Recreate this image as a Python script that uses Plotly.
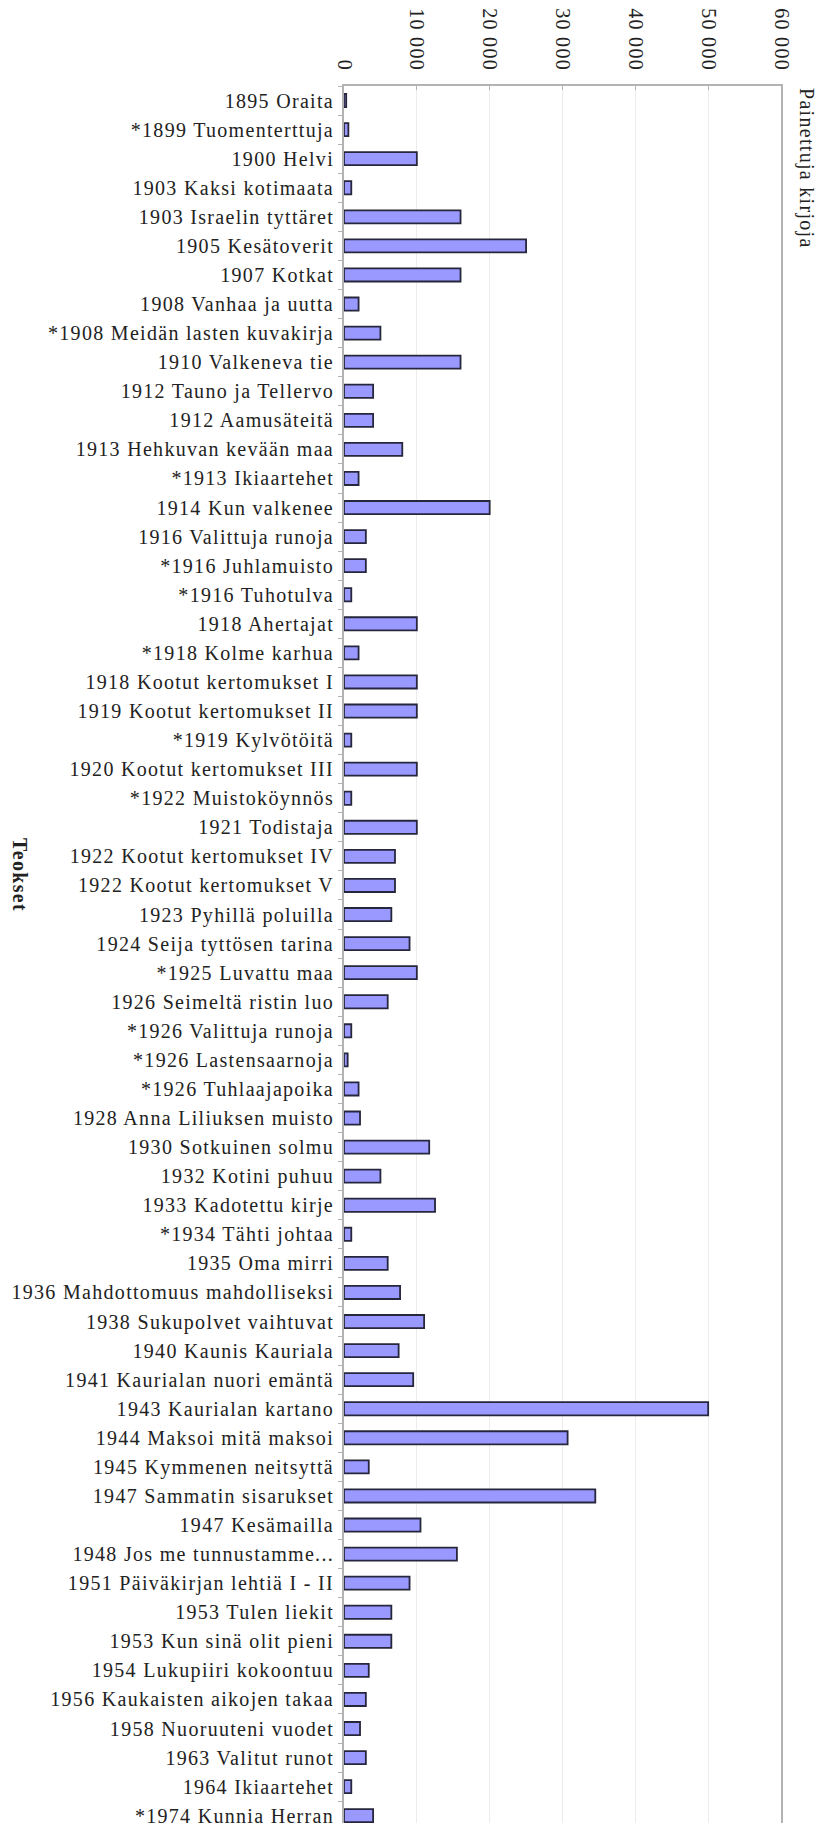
import plotly.graph_objects as go

works = [
    "1895 Oraita", "*1899 Tuomenterttuja", "1900 Helvi", "1903 Kaksi kotimaata",
    "1903 Israelin tyttäret", "1905 Kesätoverit", "1907 Kotkat", "1908 Vanhaa ja uutta",
    "*1908 Meidän lasten kuvakirja", "1910 Valkeneva tie", "1912 Tauno ja Tellervo",
    "1912 Aamusäteitä", "1913 Hehkuvan kevään maa", "*1913 Ikiaartehet", "1914 Kun valkenee",
    "1916 Valittuja runoja", "*1916 Juhlamuisto", "*1916 Tuhotulva", "1918 Ahertajat",
    "*1918 Kolme karhua", "1918 Kootut kertomukset I", "1919 Kootut kertomukset II",
    "*1919 Kylvötöitä", "1920 Kootut kertomukset III", "*1922 Muistoköynnös", "1921 Todistaja",
    "1922 Kootut kertomukset IV", "1922 Kootut kertomukset V", "1923 Pyhillä poluilla",
    "1924 Seija tyttösen tarina", "*1925 Luvattu maa", "1926 Seimeltä ristin luo",
    "*1926 Valittuja runoja", "*1926 Lastensaarnoja", "*1926 Tuhlaajapoika",
    "1928 Anna Liliuksen muisto", "1930 Sotkuinen solmu", "1932 Kotini puhuu",
    "1933 Kadotettu kirje", "*1934 Tähti johtaa", "1935 Oma mirri",
    "1936 Mahdottomuus mahdolliseksi", "1938 Sukupolvet vaihtuvat", "1940 Kaunis Kauriala",
    "1941 Kaurialan nuori emäntä", "1943 Kaurialan kartano", "1944 Maksoi mitä maksoi",
    "1945 Kymmenen neitsyttä", "1947 Sammatin sisarukset", "1947 Kesämailla",
    "1948 Jos me tunnustamme...", "1951 Päiväkirjan lehtiä I - II", "1953 Tulen liekit",
    "1953 Kun sinä olit pieni", "1954 Lukupiiri kokoontuu", "1956 Kaukaisten aikojen takaa",
    "1958 Nuoruuteni vuodet", "1963 Valitut runot", "1964 Ikiaartehet", "*1974 Kunnia Herran",
]

printed = [
    300, 600, 10000, 1000, 16000, 25000, 16000, 2000, 5000, 16000,
    4000, 4000, 8000, 2000, 20000, 3000, 3000, 1000, 10000, 2000,
    10000, 10000, 1000, 10000, 1000, 10000, 7000, 7000, 6500, 9000,
    10000, 6000, 1000, 500, 2000, 2200, 11700, 5000, 12500, 1000,
    6000, 7700, 11000, 7500, 9500, 50000, 30700, 3400, 34500, 10500,
    15500, 9000, 6500, 6500, 3400, 3000, 2200, 3000, 1000, 4000,
]

x_tickvals = [0, 10000, 20000, 30000, 40000, 50000, 60000]
x_ticktext = ["0", "10 000", "20 000", "30 000", "40 000", "50 000", "60 000"]

x_title = "Painettuja kirjoja"
y_title = "Teokset"

FONT = "Liberation Serif, Times New Roman, serif"
LS = "letter-spacing:1.3px"


def sp(t):
    return "<span style='%s'>%s</span>" % (LS, t)


W, H = 821, 1823
ML, MR, MT, MB = 344, 40, 86, 0

fig = go.Figure(
    go.Bar(
        x=printed,
        y=works,
        orientation="h",
        marker=dict(color="#9999ff", line=dict(color="#26263d", width=1.8)),
        hoverinfo="x+y",
    )
)

fig.update_layout(
    width=W,
    height=H,
    margin=dict(l=ML, r=MR, t=MT, b=MB, autoexpand=False),
    paper_bgcolor="white",
    plot_bgcolor="white",
    showlegend=False,
    bargap=0.55,
    font=dict(family=FONT, size=20, color="#222222"),
    xaxis=dict(
        side="top",
        range=[0, 60000],
        tickmode="array",
        tickvals=x_tickvals,
        ticktext=[sp(t) for t in x_ticktext],
        tickangle=90,
        showgrid=True,
        gridcolor="#ececec",
        gridwidth=1,
        showline=True,
        linecolor="#b3b3b3",
        linewidth=2,
        ticks="inside",
        ticklen=4,
        tickcolor="#b3b3b3",
        ticklabelstandoff=6,
        zeroline=False,
        tickfont=dict(family=FONT, size=20, color="#222222"),
        fixedrange=True,
    ),
    yaxis=dict(
        type="category",
        range=[59.25, -0.5],
        tickmode="array",
        tickvals=works,
        ticktext=[sp(t) for t in works],
        tickson="boundaries",
        ticks="outside",
        ticklen=4,
        tickcolor="#b3b3b3",
        showline=True,
        linecolor="#b3b3b3",
        linewidth=2,
        mirror=True,
        showgrid=False,
        ticklabelstandoff=4,
        tickfont=dict(family=FONT, size=20, color="#222222"),
        fixedrange=True,
    ),
)

pw = W - ML - MR
ph = H - MT - MB

fig.add_annotation(
    text=sp(x_title),
    textangle=90,
    xref="paper", yref="paper",
    x=(806 - ML) / pw, y=1 - (168 - MT) / ph,
    xanchor="center", yanchor="middle",
    showarrow=False,
    font=dict(family=FONT, size=20, color="#222222"),
)

fig.add_annotation(
    text="<b>" + sp(y_title) + "</b>",
    textangle=90,
    xref="paper", yref="paper",
    x=(20 - ML) / pw, y=1 - (875 - MT) / ph,
    xanchor="center", yanchor="middle",
    showarrow=False,
    font=dict(family=FONT, size=20, color="#222222"),
)

fig.write_html(
    "out.html",
    config={"displayModeBar": False},
    post_script="document.body.style.margin='0';document.body.style.overflow='hidden';",
)
